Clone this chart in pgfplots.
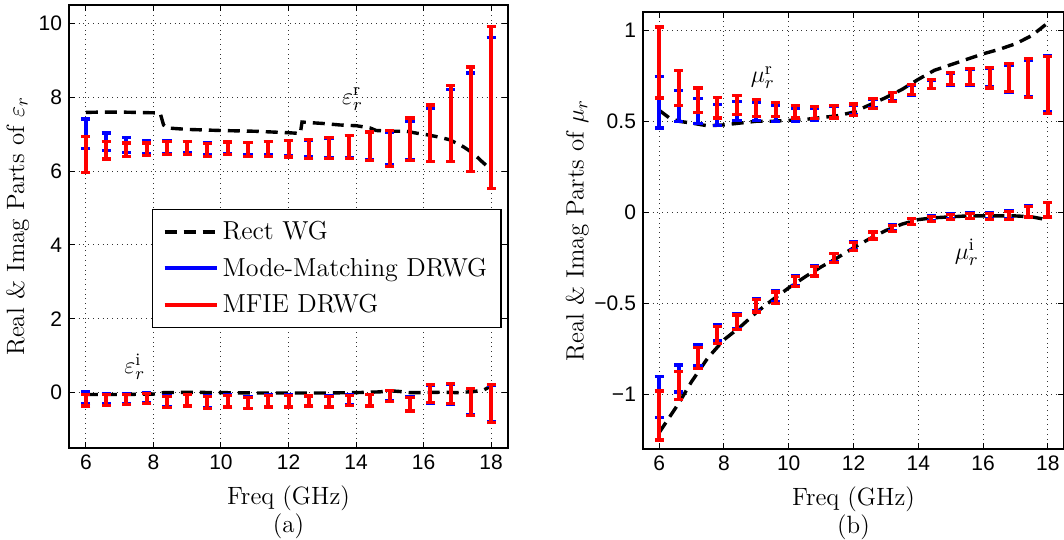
\documentclass[border=0pt]{standalone}
\usepackage{fontspec}
\usepackage{pgfplots}
\usepackage{pgfplotstable}
\pgfplotsset{compat=1.18}
\newfontfamily\helv{Liberation Sans}

% error bar ends: blue = mode-matching, red = MFIE
\pgfplotstableread{
x    blo  bhi  rlo  rhi
6.0  6.61 7.41 5.97 6.94
6.6  6.55 7.03 6.33 6.81
7.2  6.51 6.92 6.40 6.76
7.8  6.47 6.83 6.42 6.76
8.4  6.47 6.83 6.45 6.81
9.0  6.49 6.81 6.45 6.81
9.6  6.45 6.76 6.40 6.74
10.2 6.47 6.78 6.44 6.79
10.8 6.44 6.78 6.40 6.78
11.4 6.44 6.80 6.40 6.81
12.0 6.42 6.82 6.38 6.83
12.6 6.38 6.84 6.35 6.85
13.2 6.36 6.89 6.34 6.90
13.8 6.36 6.96 6.34 6.97
14.4 6.31 7.05 6.29 7.06
15.0 6.17 7.06 6.13 7.11
15.6 6.31 7.35 6.29 7.44
16.2 6.26 7.71 6.26 7.79
16.8 6.26 8.21 6.26 8.32
17.4 5.99 8.66 5.99 8.82
18.0 5.52 9.63 5.52 9.91
}\epsr

\pgfplotstableread{
x    blo    bhi    rlo    rhi
6.0  -0.29  0.03  -0.36 -0.05
6.6  -0.31 -0.02  -0.34 -0.05
7.2  -0.29 -0.02  -0.32 -0.05
7.8  -0.27  0.00  -0.29 -0.02
8.4  -0.39 -0.09  -0.41 -0.11
9.0  -0.34 -0.04  -0.36 -0.06
9.6  -0.41 -0.09  -0.43 -0.11
10.2 -0.37 -0.05  -0.39 -0.07
10.8 -0.42 -0.12  -0.43 -0.14
11.4 -0.37 -0.06  -0.39 -0.07
12.0 -0.37 -0.06  -0.39 -0.07
12.6 -0.35 -0.08  -0.36 -0.09
13.2 -0.37 -0.09  -0.39 -0.11
13.8 -0.33 -0.06  -0.34 -0.07
14.4 -0.35 -0.05  -0.36 -0.06
15.0 -0.21  0.05  -0.23  0.05
15.6 -0.48 -0.12  -0.50 -0.14
16.2 -0.29  0.20  -0.27  0.22
16.8 -0.31  0.22  -0.29  0.24
17.4 -0.60  0.11  -0.62  0.12
18.0 -0.78  0.20  -0.80  0.22
}\epsi

\pgfplotstableread{
x    blo   bhi   rlo   rhi
6.0  0.463 0.744 0.628 1.018
6.6  0.500 0.668 0.586 0.778
7.2  0.487 0.623 0.546 0.683
7.8  0.478 0.592 0.518 0.632
8.4  0.505 0.610 0.537 0.641
9.0  0.505 0.601 0.527 0.619
9.6  0.500 0.586 0.524 0.604
10.2 0.500 0.573 0.518 0.586
10.8 0.505 0.573 0.513 0.582
11.4 0.513 0.579 0.518 0.586
12.0 0.537 0.586 0.533 0.595
12.6 0.573 0.619 0.568 0.623
13.2 0.614 0.656 0.610 0.659
13.8 0.641 0.696 0.647 0.701
14.4 0.678 0.723 0.678 0.729
15.0 0.698 0.762 0.701 0.766
15.6 0.698 0.784 0.701 0.788
16.2 0.689 0.788 0.683 0.793
16.8 0.659 0.808 0.665 0.815
17.4 0.637 0.833 0.632 0.843
18.0 0.555 0.861 0.542 0.857
}\mur

\pgfplotstableread{
x    blo    bhi    rlo    rhi
6.0  -1.128 -0.903 -1.251 -0.982
6.6  -0.987 -0.839 -1.027 -0.875
7.2  -0.844 -0.729 -0.859 -0.744
7.8  -0.707 -0.618 -0.720 -0.628
8.4  -0.637 -0.557 -0.643 -0.564
9.0  -0.542 -0.474 -0.548 -0.478
9.6  -0.493 -0.432 -0.500 -0.438
10.2 -0.403 -0.348 -0.408 -0.353
10.8 -0.346 -0.293 -0.350 -0.297
11.4 -0.272 -0.225 -0.275 -0.227
12.0 -0.207 -0.163 -0.209 -0.165
12.6 -0.145 -0.106 -0.147 -0.108
13.2 -0.102 -0.069 -0.104 -0.071
13.8 -0.066 -0.033 -0.068 -0.035
14.4 -0.047 -0.020 -0.049 -0.022
15.0 -0.036 -0.009 -0.038 -0.010
15.6 -0.034 -0.004 -0.036 -0.005
16.2 -0.036 -0.004 -0.038 -0.005
16.8 -0.036  0.007 -0.038  0.006
17.4 -0.024  0.034 -0.026  0.033
18.0 -0.024  0.054 -0.026  0.052
}\mui

\pgfplotsset{
  mlab/.style={
    scale only axis,
    xmin=5.5, xmax=18.5,
    xtick={6,8,...,18},
    grid=major,
    major grid style={dotted, black!80, line width=0.5pt},
    tick align=inside,
    major tick length=3pt,
    axis line style={line width=0.7pt},
    tick style={black, line width=0.5pt},
    tick label style={font=\helv\fontsize{10.5}{12}\selectfont},
    /pgf/number format/assume math mode=true,
    xlabel style={at={(axis description cs:0.5,-0.07)}, anchor=north,
      align=center, font=\fontsize{12.5}{14}\selectfont},
    clip=false,
  },
  rect/.style={black, line width=1.7pt, dash pattern=on 6pt off 3.5pt},
  mmbar/.style={draw=none, mark=none, forget plot,
    error bars/.cd, y dir=both, y explicit,
    error bar style={blue, line width=2pt},
    error mark options={blue, rotate=90, line width=1.6pt, mark size=2.3pt}},
  mfbar/.style={draw=none, mark=none, forget plot,
    error bars/.cd, y dir=both, y explicit,
    error bar style={red, line width=2pt},
    error mark options={red, rotate=90, line width=1.6pt, mark size=2.3pt}},
}

\newcommand{\bars}[1]{%
  \addplot[mmbar] table[x=x, y expr={(\thisrow{blo}+\thisrow{bhi})/2},
    y error expr={(\thisrow{bhi}-\thisrow{blo})/2}] {#1};
  \addplot[mfbar] table[x=x, y expr={(\thisrow{rlo}+\thisrow{rhi})/2},
    y error expr={(\thisrow{rhi}-\thisrow{rlo})/2}] {#1};
}

\begin{document}
\begin{tikzpicture}
\useasboundingbox (0,0) rectangle (532pt,270pt);

% ---------- (a) permittivity ----------
\begin{axis}[mlab,
  at={(34.5pt,46pt)}, anchor=south west,
  width=219.5pt, height=221.5pt,
  ymin=-1.5, ymax=10.5,
  ytick={0,2,...,10},
  xlabel={Freq (GHz)\\(a)},
  ylabel={Real \& Imag Parts of $\varepsilon_r$},
  ylabel style={at={(axis description cs:-0.117,0.5)}, rotate=0, anchor=center,
    font=\fontsize{12.5}{14.5}\selectfont},
  legend style={at={(axis description cs:0.986,0.54)}, anchor=north east,
    draw=black, line width=0.7pt, font=\fontsize{13}{15}\selectfont,
    row sep=3.5pt, inner xsep=5pt, inner ysep=4pt, cells={anchor=west}},
  legend image code/.code={\draw[#1] (0pt,0pt) -- (26pt,0pt);},
]
\addlegendimage{rect}
\addlegendentry{Rect WG}
\addlegendimage{blue, line width=2pt}
\addlegendentry{Mode-Matching DRWG}
\addlegendimage{red, line width=2pt}
\addlegendentry{MFIE DRWG}

\addplot[rect, forget plot] coordinates {
  (6.0,7.59) (6.5,7.60) (7.0,7.60) (7.5,7.59) (8.0,7.58) (8.2,7.57)
  (8.3,7.25) (8.4,7.17) (9.0,7.13) (10.0,7.10) (11.0,7.08) (12.0,7.04)
  (12.35,7.02) (12.4,7.33) (12.54,7.32) (13.03,7.29) (13.52,7.25)
  (14.01,7.23) (14.41,7.17) (14.6,7.10) (15.1,7.08) (15.49,7.08)
  (15.78,7.03) (16.07,6.99) (16.47,6.92) (16.77,6.85) (17.16,6.67)
  (17.46,6.49) (17.75,6.24) (18.0,6.04)
};
\addplot[rect, forget plot] coordinates {
  (6.0,-0.05) (7.0,-0.05) (8.0,-0.04) (8.3,0.0) (9.0,0.01) (10.0,0.0)
  (11.0,-0.01) (12.0,-0.01) (13.0,-0.01) (14.0,0.0) (14.7,0.02)
  (15.0,0.05) (15.3,0.03) (15.6,0.0) (16.0,0.0) (16.5,0.01) (17.0,0.0)
  (17.5,0.03) (17.8,0.08) (18.0,0.18)
};
\bars{\epsr}
\bars{\epsi}
\node[font=\fontsize{12.5}{14.5}\selectfont] at (axis cs:13.9,7.95) {$\varepsilon_r^{\mathrm{r}}$};
\node[font=\fontsize{12.5}{14.5}\selectfont] at (axis cs:7.45,0.7) {$\varepsilon_r^{\mathrm{i}}$};
\end{axis}

% ---------- (b) permeability ----------
\begin{axis}[mlab,
  at={(321.5pt,45.5pt)}, anchor=south west,
  width=210.5pt, height=218.5pt,
  ymin=-1.3, ymax=1.1,
  ytick={-1,-0.5,0,0.5,1},
  yticklabels={−1,−0.5,0,0.5,1},
  xlabel={Freq (GHz)\\(b)},
  ylabel={Real \& Imag Parts of $\mu_r$},
  ylabel style={at={(axis description cs:-0.156,0.5)}, rotate=0, anchor=center,
    font=\fontsize{12.5}{14.5}\selectfont},
]
\addplot[rect] coordinates {
  (6.0,0.56) (6.3,0.52) (6.6,0.50) (7.0,0.49) (7.5,0.475) (8.0,0.48)
  (8.5,0.49) (9.0,0.50) (9.5,0.50) (10.0,0.505) (10.5,0.51) (11.0,0.52)
  (11.5,0.53) (12.0,0.55) (12.5,0.59) (13.0,0.63) (13.5,0.675)
  (14.0,0.73) (14.5,0.78) (15.0,0.81) (15.5,0.84) (16.0,0.87)
  (16.5,0.895) (17.0,0.925) (17.5,0.97) (18.0,1.04)
};
\addplot[rect] coordinates {
  (6.0,-1.21) (6.3,-1.13) (6.6,-1.05) (7.0,-0.93) (7.5,-0.80) (8.0,-0.70)
  (8.5,-0.63) (9.0,-0.55) (9.5,-0.48) (10.0,-0.415) (10.5,-0.355)
  (11.0,-0.30) (11.5,-0.25) (12.0,-0.195) (12.5,-0.145) (13.0,-0.10)
  (13.5,-0.065) (14.0,-0.04) (14.5,-0.03) (15.0,-0.025) (15.5,-0.02)
  (16.0,-0.02) (16.5,-0.02) (17.0,-0.02) (17.5,-0.025) (17.8,-0.035)
  (18.0,-0.05)
};
\bars{\mur}
\bars{\mui}
\node[font=\fontsize{12.5}{14.5}\selectfont] at (axis cs:9.2,0.74) {$\mu_r^{\mathrm{r}}$};
\node[font=\fontsize{12.5}{14.5}\selectfont] at (axis cs:15.5,-0.22) {$\mu_r^{\mathrm{i}}$};
\end{axis}
\end{tikzpicture}
\end{document}
